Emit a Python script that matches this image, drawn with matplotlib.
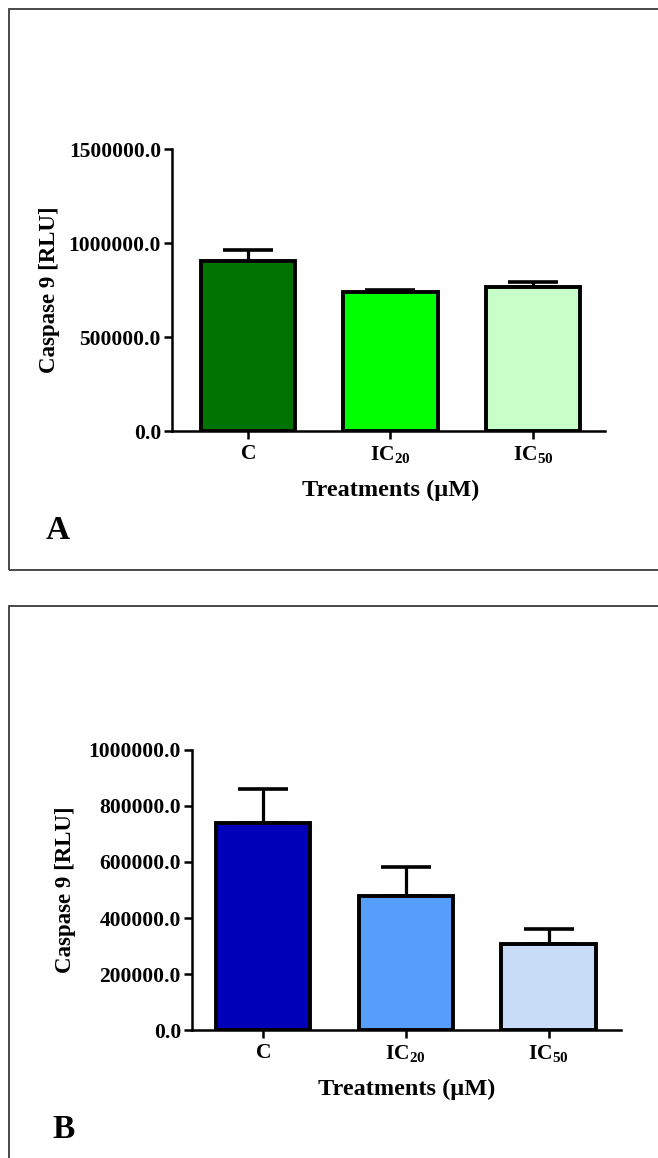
import matplotlib
matplotlib.use("Agg")
import matplotlib.pyplot as plt
from matplotlib.patches import Rectangle
from matplotlib.ticker import FormatStrFormatter

plt.rcParams['font.family'] = ['Liberation Serif', 'DejaVu Serif']
plt.rcParams['font.weight'] = 'bold'
plt.rcParams['mathtext.fontset'] = 'custom'
plt.rcParams['mathtext.rm'] = 'Liberation Serif:bold'
plt.rcParams['mathtext.it'] = 'Liberation Serif:bold'
plt.rcParams['mathtext.bf'] = 'Liberation Serif:bold'
plt.rcParams['mathtext.default'] = 'rm'

# ---- data ----
categories = ['$C$', '$IC_{20}$', '$IC_{50}$']
values_a = [902000, 741000, 767000]
errors_a = [60000, 9000, 24000]
values_b = [737000, 479000, 307000]
errors_b = [124000, 104000, 53000]
yticks_a = [0, 500000, 1000000, 1500000]
yticks_b = [0, 200000, 400000, 600000, 800000, 1000000]
colors_a = ['#007300', '#00ff00', '#c8ffc8']
colors_b = ['#0000b8', '#559ffa', '#c8dcf8']
ylabel = 'Caspase 9 [RLU]'
xlabel = 'Treatments (\u00b5M)'

W, H = 658, 1158
fig = plt.figure(figsize=(W / 100, H / 100), dpi=100)


def axes_px(left, right, top, bottom):
    return [left / W, 1 - bottom / H, (right - left) / W, (bottom - top) / H]


def draw_panel(rect, vals, errs, colors, yticks, xlim, letter, letter_xy,
               ylab_x, xlab_x):
    ax = fig.add_axes(rect)
    x = list(range(len(vals)))
    ax.bar(x, vals, width=0.66, color=colors, edgecolor='black',
           linewidth=2.8, zorder=3)
    ax.errorbar(x, vals, yerr=[[0] * len(vals), errs], fmt='none',
                ecolor='black', elinewidth=2.3, capsize=18, capthick=2.6,
                zorder=2)
    ax.set_xlim(*xlim)
    ax.set_ylim(0, yticks[-1])
    ax.set_yticks(yticks)
    ax.yaxis.set_major_formatter(FormatStrFormatter('%.1f'))
    ax.set_xticks(x)
    ax.set_xticklabels(categories)
    for s in ['top', 'right']:
        ax.spines[s].set_visible(False)
    for s in ['left', 'bottom']:
        ax.spines[s].set_linewidth(1.8)
    ax.tick_params(axis='both', width=1.8, length=6, direction='out')
    ax.tick_params(axis='y', pad=2, labelsize=15.5)
    ax.tick_params(axis='x', pad=3, labelsize=15.5)
    for t in ax.get_yticklabels():
        t.set_fontweight('bold')
    ax.set_ylabel(ylabel, fontsize=16.5, fontweight='bold', va='center')
    ax.yaxis.set_label_coords(ylab_x, 0.5)
    ax.set_xlabel(xlabel, fontsize=17.5, fontweight='bold', va='baseline')
    ax.xaxis.set_label_coords(xlab_x, -65 / (rect[3] * H))
    fig.text(letter_xy[0] / W, 1 - letter_xy[1] / H, letter, fontsize=24,
             fontweight='bold', ha='left', va='baseline')
    return ax


# panel borders
fig.add_artist(Rectangle((9.2 / W, 1 - 569.5 / H), 1.2, (569.5 - 9.3) / H,
                         transform=fig.transFigure, fill=False,
                         edgecolor='#3a3a3a', linewidth=1.3))
fig.add_artist(Rectangle((9.2 / W, -0.2), 1.2, 0.2 + 1 - 605.8 / H,
                         transform=fig.transFigure, fill=False,
                         edgecolor='#3a3a3a', linewidth=1.3))

rect_a = axes_px(172, 605, 149, 431)
draw_panel(rect_a, values_a, errors_a, colors_a, yticks_a, (-0.533, 2.505),
           'A', (46, 539), (50 - 172) / 433, 0.505)

rect_b = axes_px(192, 621, 749.6, 1030.4)
draw_panel(rect_b, values_b, errors_b, colors_b, yticks_b, (-0.498, 2.508),
           'B', (52.5, 1138.5), (66 - 192) / 429, 0.5)

fig.savefig('out.png', dpi=100, facecolor='white')
